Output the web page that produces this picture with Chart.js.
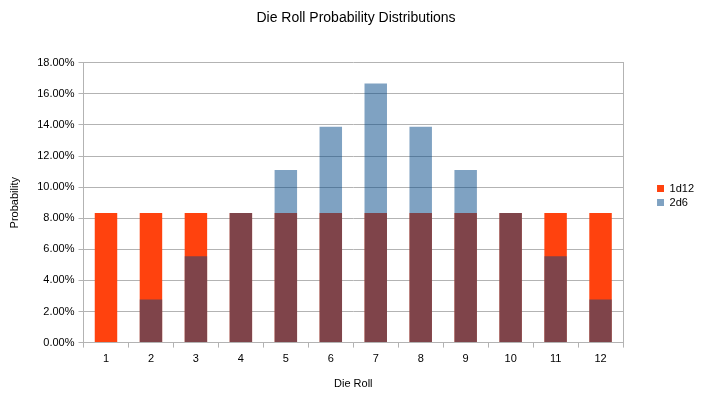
<!DOCTYPE html>
<html>
<head>
<meta charset="utf-8">
<title>Die Roll Probability Distributions</title>
<script src="https://cdn.jsdelivr.net/npm/chart.js@4"></script>
<style>
  html, body { margin: 0; padding: 0; background: #fff; }
  canvas { display: block; }
</style>
</head>
<body>
<canvas id="chartDice" width="703" height="403"></canvas>
<script>
/* ---- Data ---- */
const rolls    = ['1', '2', '3', '4', '5', '6', '7', '8', '9', '10', '11', '12'];
const oneD12   = [0.0833, 0.0833, 0.0833, 0.0833, 0.0833, 0.0833, 0.0833, 0.0833, 0.0833, 0.0833, 0.0833, 0.0833];
const twoD6    = [0, 0.0278, 0.0556, 0.0833, 0.1111, 0.1389, 0.1667, 0.1389, 0.1111, 0.0833, 0.0556, 0.0278];
const yTicks   = [0, 0.02, 0.04, 0.06, 0.08, 0.10, 0.12, 0.14, 0.16, 0.18];

const FONT  = 'Liberation Sans, Arial, sans-serif';
const GRID  = '#b3b3b3';

const pct = v => (v * 100).toFixed(2) + '%';

new Chart(document.getElementById('chartDice').getContext('2d'), {
  type: 'bar',
  data: {
    labels: rolls,
    datasets: [
      {
        label          : '1d12',
        data           : oneD12,
        backgroundColor: '#ff420e',
        borderWidth    : 0,
        grouped        : false,
        order          : 1,
      },
      {
        label          : '2d6',
        data           : twoD6,
        backgroundColor: 'rgba(0,69,134,0.5)',
        borderWidth    : 0,
        grouped        : false,
        order          : 0,   // drawn on top of 1d12
      },
    ],
  },
  options: {
    responsive: false,
    animation : false,
    barPercentage     : 0.5,
    categoryPercentage: 1,
    layout: { padding: { left: 8, right: -1, top: 0, bottom: 12 } },
    plugins: {
      title: {
        display : true,
        text    : 'Die Roll Probability Distributions',
        color   : '#000',
        font    : { family: FONT, size: 14, weight: 'normal' },
        padding : { top: 10, bottom: 36 },
      },
      legend: {
        position: 'right',
        labels  : {
          boxWidth : 7,
          boxHeight: 7,
          padding  : 3,
          color    : '#000',
          font     : { family: FONT, size: 11 },
          sort     : (a, b) => a.datasetIndex - b.datasetIndex,
        },
      },
      tooltip: { enabled: false },
    },
    scales: {
      x: {
        grid  : { display: true, drawOnChartArea: false, drawTicks: true, tickLength: 5, color: GRID, offset: true },
        border: { display: true, color: GRID },
        ticks : { color: '#000', font: { family: FONT, size: 11 }, padding: 5 },
        title : { display: true, text: 'Die Roll', color: '#000', font: { family: FONT, size: 11 }, padding: { top: 7, bottom: 0 } },
      },
      y: {
        min: 0,
        max: 0.18,
        afterBuildTicks: axis => { axis.ticks = yTicks.map(v => ({ value: v })); },
        grid  : { color: GRID, tickLength: 5, drawTicks: true },
        border: { display: true, color: GRID },
        ticks : { color: '#000', font: { family: FONT, size: 11 }, padding: 4, callback: v => pct(v) },
        title : { display: true, text: 'Probability', color: '#000', font: { family: FONT, size: 11 }, padding: { top: 0, bottom: 12 } },
      },
      yRight: {
        position: 'right',
        min: 0,
        max: 0.18,
        grid  : { display: false },
        border: { display: true, color: GRID },
        ticks : { display: false },
        afterFit: axis => { axis.width = 31; },
      },
    },
  },
});
</script>
</body>
</html>
